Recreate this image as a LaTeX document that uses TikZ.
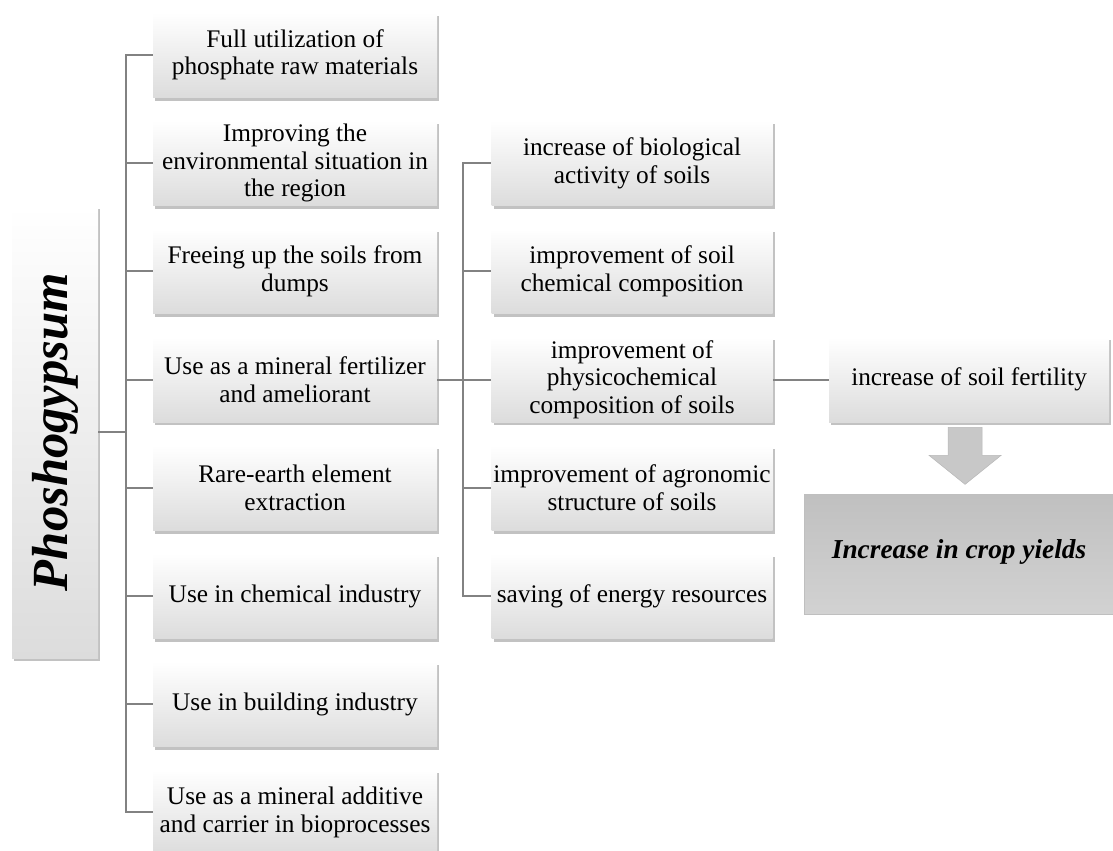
\documentclass[tikz,border=0pt]{standalone}
\usepackage{fontspec}
\setmainfont{Liberation Serif}
\usetikzlibrary{positioning, shadows, calc}
\definecolor{linegray}{RGB}{130,130,130}
\definecolor{boxshade}{RGB}{220,220,220}
\definecolor{arrowgray}{RGB}{200,200,200}
\definecolor{yieldtop}{RGB}{192,192,192}
\definecolor{yieldbot}{RGB}{210,210,210}

\begin{document}
\begin{tikzpicture}[x=0.75pt, y=-0.75pt,
      card/.style={
        rectangle, shading=axis, top color=white, bottom color=boxshade,
        drop shadow={shadow xshift=1.5pt, shadow yshift=-2.5pt, opacity=0.4, fill=black!60},
        minimum width=213pt, minimum height=63.75pt, inner sep=0pt, align=center,
        font=\fontsize{19}{20.6}\selectfont
      },
      midcard/.style={card, minimum width=210.75pt},
      pgbox/.style={card, minimum width=64.5pt, minimum height=339pt},
      yield/.style={
        rectangle, shading=axis, top color=yieldtop, bottom color=yieldbot,
        draw=black!25, line width=0.5pt,
        minimum width=232.5pt, minimum height=90pt, inner sep=0pt,
        font=\fontsize{20.5}{24}\selectfont\bfseries\itshape
      },
      link/.style={draw=linegray, line width=1.5pt},
      blockarrow/.style={fill=arrowgray, draw=black!28, line width=0.4pt, line join=miter}
    ]
      \useasboundingbox (0,0) rectangle (1113,850);
      % --- Root box, text turned up ---
      \node[pgbox] (pg) at (55,432)
        {\rotatebox{90}{\fontsize{38}{44}\selectfont\bfseries\itshape Phoshogypsum}};
      % --- Column 1: uses of the material ---
      \node[card] (u1) at (295,55) {Full utilization of\\phosphate raw materials};
      \node[card, below=17pt of u1] (u2) {Improving the\\environmental situation in\\the region};
      \node[card, below=17pt of u2] (u3) {Freeing up the soils from\\dumps};
      \node[card, below=17pt of u3] (u4) {Use as a mineral fertilizer\\and ameliorant};
      \node[card, below=17pt of u4] (u5) {Rare-earth element\\extraction};
      \node[card, below=17pt of u5] (u6) {Use in chemical industry};
      \node[card, below=17pt of u6] (u7) {Use in building industry};
      \node[card, below=17pt of u7] (u8) {Use as a mineral additive\\and carrier in bioprocesses};
      % --- Column 2: effects on soils ---
      \node[midcard, right=40.5pt of u2] (m1) {increase of biological\\activity of soils};
      \node[midcard, below=17pt of m1] (m2) {improvement of soil\\chemical composition};
      \node[midcard, below=17pt of m2] (m3) {improvement of\\physicochemical\\composition of soils};
      \node[midcard, below=17pt of m3] (m4) {improvement of agronomic\\structure of soils};
      \node[midcard, below=17pt of m4] (m5) {saving of energy resources};
      % --- Column 3: result ---
      \node[card, minimum width=210pt, right=42pt of m3] (fert) {increase of soil fertility};
      \node[yield, below=54pt of fert, xshift=-7.5pt] (crop) {\raisebox{9pt}{Increase in crop yields}};
      % --- Tree connectors ---
      \coordinate[right=20.6pt of pg] (jA);
      \draw[link] (pg.east) -- (jA);
      \foreach \i in {1,...,8} \draw[link] (jA) |- (u\i.west);
      \coordinate[right=19.5pt of u4] (jB);
      \draw[link] (u4.east) -- (jB);
      \foreach \i in {1,...,5} \draw[link] (jB) |- (m\i.west);
      \draw[link] (m3.east) -- (fert.west);
      % --- Block arrow down to the yield box ---
      \coordinate (arrtop) at ($(fert.south)+(-3pt,-3.75pt)$);
      \draw[blockarrow] ([xshift=-12.75pt]arrtop) -- ([xshift=12.75pt]arrtop)
        -- ([xshift=12.75pt,yshift=-21pt]arrtop) -- ([xshift=27pt,yshift=-21pt]arrtop)
        -- ([yshift=-42.75pt]arrtop) -- ([xshift=-27pt,yshift=-21pt]arrtop)
        -- ([xshift=-12.75pt,yshift=-21pt]arrtop) -- cycle;
    \end{tikzpicture}
\end{document}
